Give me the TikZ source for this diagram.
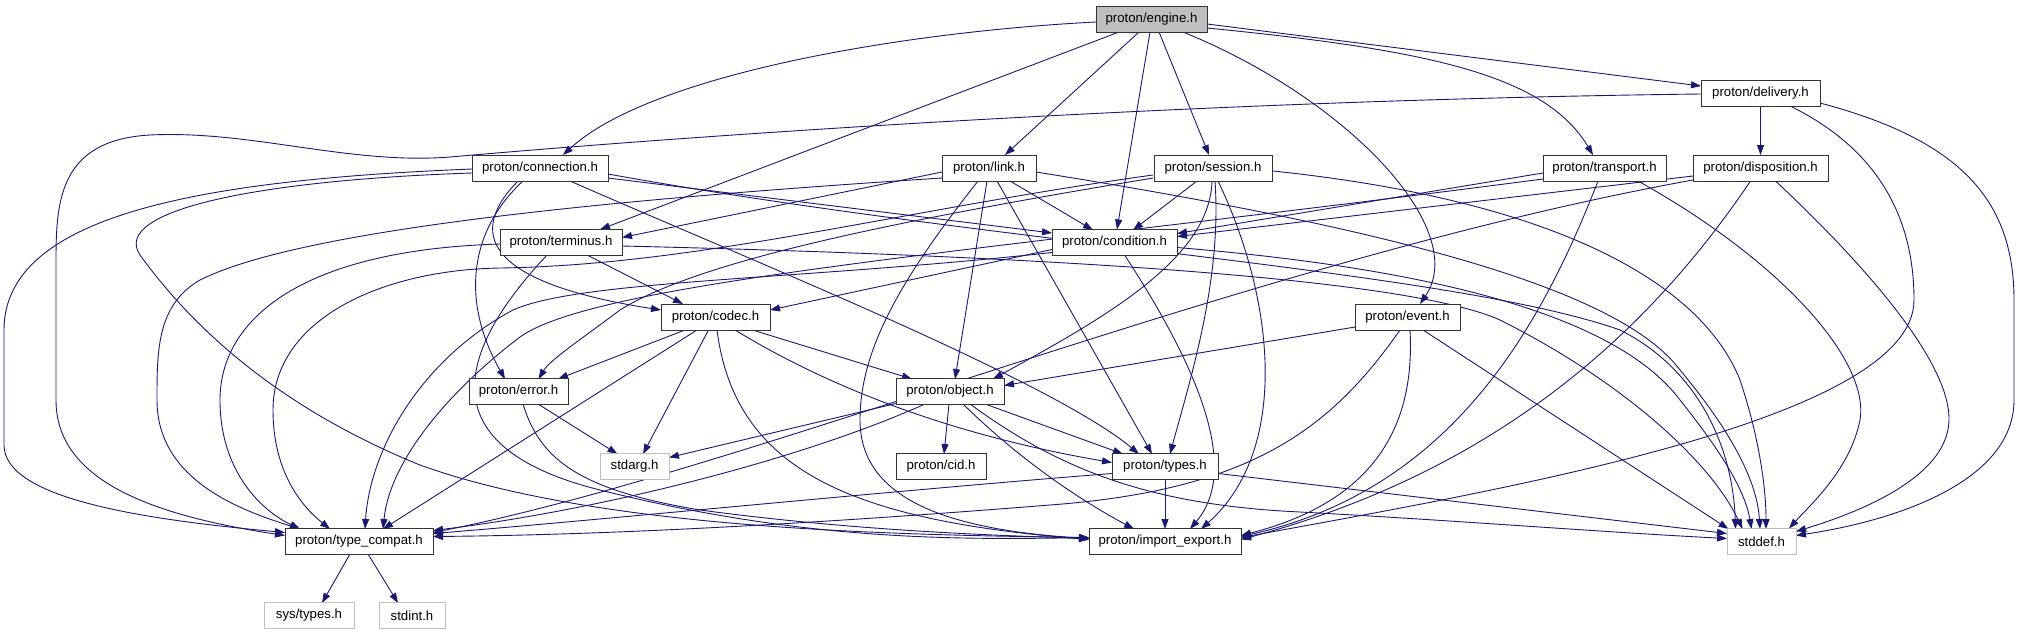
\documentclass[tikz,border=0pt]{standalone}
\usepackage{fontspec}
\setmainfont{Liberation Sans}
\usetikzlibrary{calc,arrows.meta}
\definecolor{mb}{HTML}{191970}
\definecolor{lg}{HTML}{BFBFBF}
\pgfdeclarelayer{bg}
\pgfsetlayers{bg,main}
\begin{document}
\begin{tikzpicture}[x=1pt,y=-1pt,
  nb/.style={draw=black!80,line width=1pt,fill=white,minimum height=26pt,inner sep=0pt,font=\fontsize{13.2}{15}\selectfont},
  ng/.style={nb,draw=lg},
  ne/.style={nb,fill=lg},
  e/.style={draw=mb,line width=0.9pt,-{Triangle[length=10pt,width=7pt]}}]
\useasboundingbox (0,0) rectangle (2021,635);
% nodes
\node[ne,minimum width=111pt] (eng) at (1151.5,19) {proton/engine.h};
\node[nb,minimum width=136pt] (conn) at (540,168) {proton/connection.h};
\node[nb,minimum width=122pt] (term) at (561,242.5) {proton/terminus.h};
\node[nb,minimum width=94pt] (link) at (989,168) {proton/link.h};
\node[nb,minimum width=118pt] (sess) at (1213,168) {proton/session.h};
\node[nb,minimum width=125pt] (cond) at (1114.5,242.5) {proton/condition.h};
\node[nb,minimum width=109pt] (codec) at (715.5,317) {proton/codec.h};
\node[nb,minimum width=119pt] (deliv) at (1760.5,93) {proton/delivery.h};
\node[nb,minimum width=123pt] (trans) at (1604.5,168) {proton/transport.h};
\node[nb,minimum width=135pt] (disp) at (1760.5,168) {proton/disposition.h};
\node[nb,minimum width=105pt] (event) at (1407.5,317) {proton/event.h};
\node[nb,minimum width=99pt] (err) at (518.5,391.5) {proton/error.h};
\node[ng,minimum width=69pt] (stdarg) at (634.5,466.5) {stdarg.h};
\node[nb,minimum width=148pt] (tc) at (359,541.5) {proton/type\_compat.h};
\node[ng,minimum width=90pt] (syst) at (309,615.5) {sys/types.h};
\node[ng,minimum width=66pt] (stdint) at (412,615.5) {stdint.h};
\node[nb,minimum width=108pt] (obj) at (950,391.5) {proton/object.h};
\node[nb,minimum width=90pt] (cid) at (941,466.5) {proton/cid.h};
\node[nb,minimum width=106pt] (types) at (1165,466.5) {proton/types.h};
\node[nb,minimum width=152pt] (ie) at (1165,541.5) {proton/import\_export.h};
\node[ng,minimum width=69pt] (stddef) at (1761.5,541.5) {stddef.h};
\begin{pgfonlayer}{bg}
% engine
\draw[e] ($(eng)+(-55.5,3)$) .. controls (900,32) and (650,75) .. ($(conn)+(23,-13)$);
\draw[e] ($(eng)+(-32.5,13)$) -- ($(term)+(39,-13)$);
\draw[e] ($(eng)+(-12.5,13)$) -- ($(link)+(16,-13)$);
\draw[e] ($(eng)+(-1.5,13)$) -- ($(cond)+(2.5,-13)$);
\draw[e] ($(eng)+(7.5,13)$) -- ($(sess)+(-4,-13)$);
\draw[e] ($(eng)+(31.5,13)$) .. controls (1350,100) and (1470,230) .. ($(event)+(12.5,-13)$);
\draw[e] ($(eng)+(55.5,9)$) .. controls (1430,50) and (1545,75) .. ($(trans)+(-11.5,-13)$);
\draw[e] ($(eng)+(55.5,5)$) -- ($(deliv)+(-59.5,-7)$);
% delivery
\draw[e] ($(deliv)+(0,13)$) -- ($(disp)+(0,-13)$);
\draw[e] ($(deliv)+(-59.5,1)$) .. controls (1200,100) and (700,135) .. (450,157) .. controls (350,165) and (250,130) .. (150,135) .. controls (60,140) and (56,200) .. (56,260) -- (56,400) .. controls (56,480) and (150,515) .. ($(tc)+(-74,-6)$);
\draw[e] ($(deliv)+(29.5,13)$) .. controls (1880,150) and (1914,220) .. (1914,300) .. controls (1914,420) and (1500,490) .. ($(ie)+(76,-4)$);
\draw[e] ($(deliv)+(59.5,10)$) .. controls (1960,140) and (2014,200) .. (2014,300) -- (2014,400) .. controls (2014,480) and (1900,520) .. ($(stddef)+(34.5,-6)$);
% disposition
\draw[e] ($(disp)+(-67.5,8)$) -- ($(cond)+(62.5,-6)$);
\draw[e] ($(disp)+(-67.5,12)$) .. controls (1250,260) and (750,470) .. ($(tc)+(74,-9)$);
\draw[e] ($(disp)+(-10,13)$) .. controls (1650,330) and (1500,470) .. ($(ie)+(76,-2)$);
\draw[e] ($(disp)+(15,13)$) .. controls (1860,260) and (1950,360) .. (1949,420) .. controls (1948,480) and (1850,515) .. ($(stddef)+(34.5,-10)$);
% transport
\draw[e] ($(trans)+(-61.5,5)$) -- ($(cond)+(62.5,-9)$);
\draw[e] ($(trans)+(-61.5,11)$) .. controls (1000,250) and (600,280) .. (520,337) .. controls (450,390) and (390,460) .. ($(tc)+(24,-12.5)$);
\draw[e] ($(trans)+(-6.5,13)$) .. controls (1540,330) and (1450,490) .. ($(ie)+(76,-5)$);
\draw[e] ($(trans)+(33.5,13)$) .. controls (1780,260) and (1870,360) .. (1860,420) .. controls (1850,470) and (1810,505) .. ($(stddef)+(27.5,-13)$);
% connection
\draw[e] ($(conn)+(-68,1)$) .. controls (200,180) and (4,215) .. (4,330) -- (4,445) .. controls (4,500) and (150,520) .. ($(tc)+(-74,-9)$);
\draw[e] ($(conn)+(-68,5)$) .. controls (260,180) and (110,210) .. (140,255) .. controls (180,310) and (260,400) .. (420,465) .. controls (600,530) and (900,535) .. ($(ie)+(-76,-4)$);
\draw[e] ($(conn)+(-17,13)$) .. controls (470,230) and (460,300) .. ($(err)+(-13.5,-12.5)$);
\draw[e] ($(conn)+(-22,13)$) .. controls (460,240) and (500,285) .. ($(codec)+(-54.5,-7)$);
\draw[e] ($(conn)+(30,13)$) .. controls (750,260) and (1050,380) .. ($(types)+(-26,-12.5)$);
\draw[e] ($(conn)+(68,10)$) -- ($(cond)+(-62.5,-9.5)$);
\draw[e] ($(conn)+(68,6)$) .. controls (1000,245) and (1450,270) .. (1620,330) .. controls (1700,370) and (1733,450) .. ($(stddef)+(-26,-12.5)$);
% terminus
\draw[e] ($(term)+(-61,1.5)$) .. controls (300,250) and (220,320) .. (220,400) .. controls (220,470) and (260,510) .. ($(tc)+(-59,-12.5)$);
\draw[e] ($(term)+(26,12.5)$) -- ($(codec)+(-32.5,-13)$);
\draw[e] ($(term)+(-14,12.5)$) .. controls (430,380) and (460,455) .. (600,490) .. controls (800,540) and (950,540) .. ($(ie)+(-76,-4)$);
\draw[e] ($(term)+(61,3.5)$) .. controls (1000,255) and (1400,275) .. (1500,320) .. controls (1620,380) and (1710,460) .. ($(stddef)+(-19,-12.5)$);
% link
\draw[e] ($(link)+(-47,4)$) -- ($(term)+(61,-5)$);
\draw[e] ($(link)+(-47,10)$) .. controls (600,200) and (300,230) .. (200,280) .. controls (157,305) and (157,350) .. (157,400) .. controls (157,480) and (240,510) .. ($(tc)+(-59,-12.5)$);
\draw[e] ($(link)+(21,13)$) -- ($(cond)+(-21.5,-12.5)$);
\draw[e] ($(link)+(-2,13)$) -- ($(obj)+(5,-12.5)$);
\draw[e] ($(link)+(8,13)$) -- ($(types)+(-13,-12.5)$);
\draw[e] ($(link)+(-11,13)$) .. controls (900,280) and (860,350) .. (860,420) .. controls (860,500) and (950,530) .. ($(ie)+(-76,-3)$);
\draw[e] ($(link)+(47,4)$) .. controls (1400,230) and (1620,290) .. (1680,370) .. controls (1730,430) and (1757,480) .. ($(stddef)+(-1.5,-12.5)$);
% session
\draw[e] ($(sess)+(-16,13)$) -- ($(cond)+(18.5,-12.5)$);
\draw[e] ($(sess)+(-1,13)$) .. controls (1210,260) and (1100,320) .. ($(obj)+(43,-12.5)$);
\draw[e] ($(sess)+(2,13)$) .. controls (1222,280) and (1190,380) .. ($(types)+(5,-12.5)$);
\draw[e] ($(sess)+(5,13)$) .. controls (1275,300) and (1290,450) .. ($(ie)+(36,-12.5)$);
\draw[e] ($(sess)+(-60,10)$) .. controls (900,220) and (700,260) .. (620,310) .. controls (580,340) and (550,360) .. ($(err)+(20,-12.5)$);
\draw[e] ($(sess)+(-60,7)$) .. controls (900,210) and (700,265) .. (500,268) .. controls (380,270) and (273,320) .. (273,410) .. controls (273,470) and (300,505) .. ($(tc)+(-29,-12.5)$);
\draw[e] ($(sess)+(60,3)$) .. controls (1550,200) and (1700,280) .. (1740,380) .. controls (1760,440) and (1766,490) .. ($(stddef)+(4.5,-12.5)$);
% condition
\draw[e] ($(cond)+(-62.5,7)$) -- ($(codec)+(54.5,-7)$);
\draw[e] ($(cond)+(-62.5,10)$) .. controls (800,280) and (580,280) .. (513,310) .. controls (420,360) and (370,450) .. ($(tc)+(6,-12.5)$);
\draw[e] ($(cond)+(10,12.5)$) .. controls (1200,370) and (1240,470) .. ($(ie)+(25,-12.5)$);
\draw[e] ($(cond)+(62.5,5)$) .. controls (1450,270) and (1620,320) .. (1680,400) .. controls (1720,450) and (1745,490) .. ($(stddef)+(-10,-12.5)$);
% codec
\draw[e] ($(codec)+(-30.5,13)$) -- ($(err)+(39.5,-12.5)$);
\draw[e] ($(codec)+(-18.5,13)$) -- ($(tc)+(24,-12.5)$);
\draw[e] ($(codec)+(-7,13)$) -- ($(stdarg)+(8.5,-12.5)$);
\draw[e] ($(codec)+(1.5,13)$) .. controls (735,470) and (850,520) .. ($(ie)+(-76,-2)$);
\draw[e] ($(codec)+(37,13)$) -- ($(obj)+(-38,-12.5)$);
\draw[e] ($(codec)+(19.5,13)$) .. controls (850,400) and (980,440) .. ($(types)+(-53,-4)$);
% error
\draw[e] ($(err)+(19.5,12.5)$) -- ($(stdarg)+(-17,-12.5)$);
\draw[e] ($(err)+(4.5,12.5)$) .. controls (540,460) and (580,490) .. (700,510) .. controls (850,530) and (980,535) .. ($(ie)+(-76,-3)$);
% object
\draw[e] ($(obj)+(-54,12)$) -- ($(stdarg)+(34.5,-9)$);
\draw[e] ($(obj)+(-25,12.5)$) .. controls (800,460) and (600,510) .. ($(tc)+(74,-11)$);
\draw[e] ($(obj)+(-1,12.5)$) -- ($(cid)+(3,-12.5)$);
\draw[e] ($(obj)+(13,12.5)$) .. controls (1020,460) and (1080,500) .. ($(ie)+(-31,-12.5)$);
\draw[e] ($(obj)+(35,12.5)$) -- ($(types)+(-42,-12.5)$);
\draw[e] ($(obj)+(20,12.5)$) .. controls (1060,470) and (1150,505) .. (1300,512) .. controls (1450,520) and (1600,532) .. ($(stddef)+(-34.5,-3)$);
% types
\draw[e] ($(types)+(-53,7)$) .. controls (900,490) and (600,520) .. ($(tc)+(74,-8)$);
\draw[e] ($(types)+(0,12.5)$) -- ($(ie)+(0,-12.5)$);
\draw[e] ($(types)+(53,7)$) -- ($(stddef)+(-34.5,-8)$);
% event
\draw[e] ($(event)+(-52.5,10)$) -- ($(obj)+(54,-6)$);
\draw[e] ($(event)+(-7.5,13)$) .. controls (1330,430) and (1250,490) .. (1050,505) .. controls (800,525) and (600,535) .. ($(tc)+(74,-5)$);
\draw[e] ($(event)+(2.5,13)$) .. controls (1415,420) and (1380,500) .. ($(ie)+(76,-6)$);
\draw[e] ($(event)+(15.5,13)$) -- ($(stddef)+(-33,-12.5)$);
% type_compat
\draw[e] ($(tc)+(-9,12.5)$) -- ($(syst)+(13,-12.5)$);
\draw[e] ($(tc)+(9,12.5)$) -- ($(stdint)+(-14,-12.5)$);
\end{pgfonlayer}
\end{tikzpicture}
\end{document}
